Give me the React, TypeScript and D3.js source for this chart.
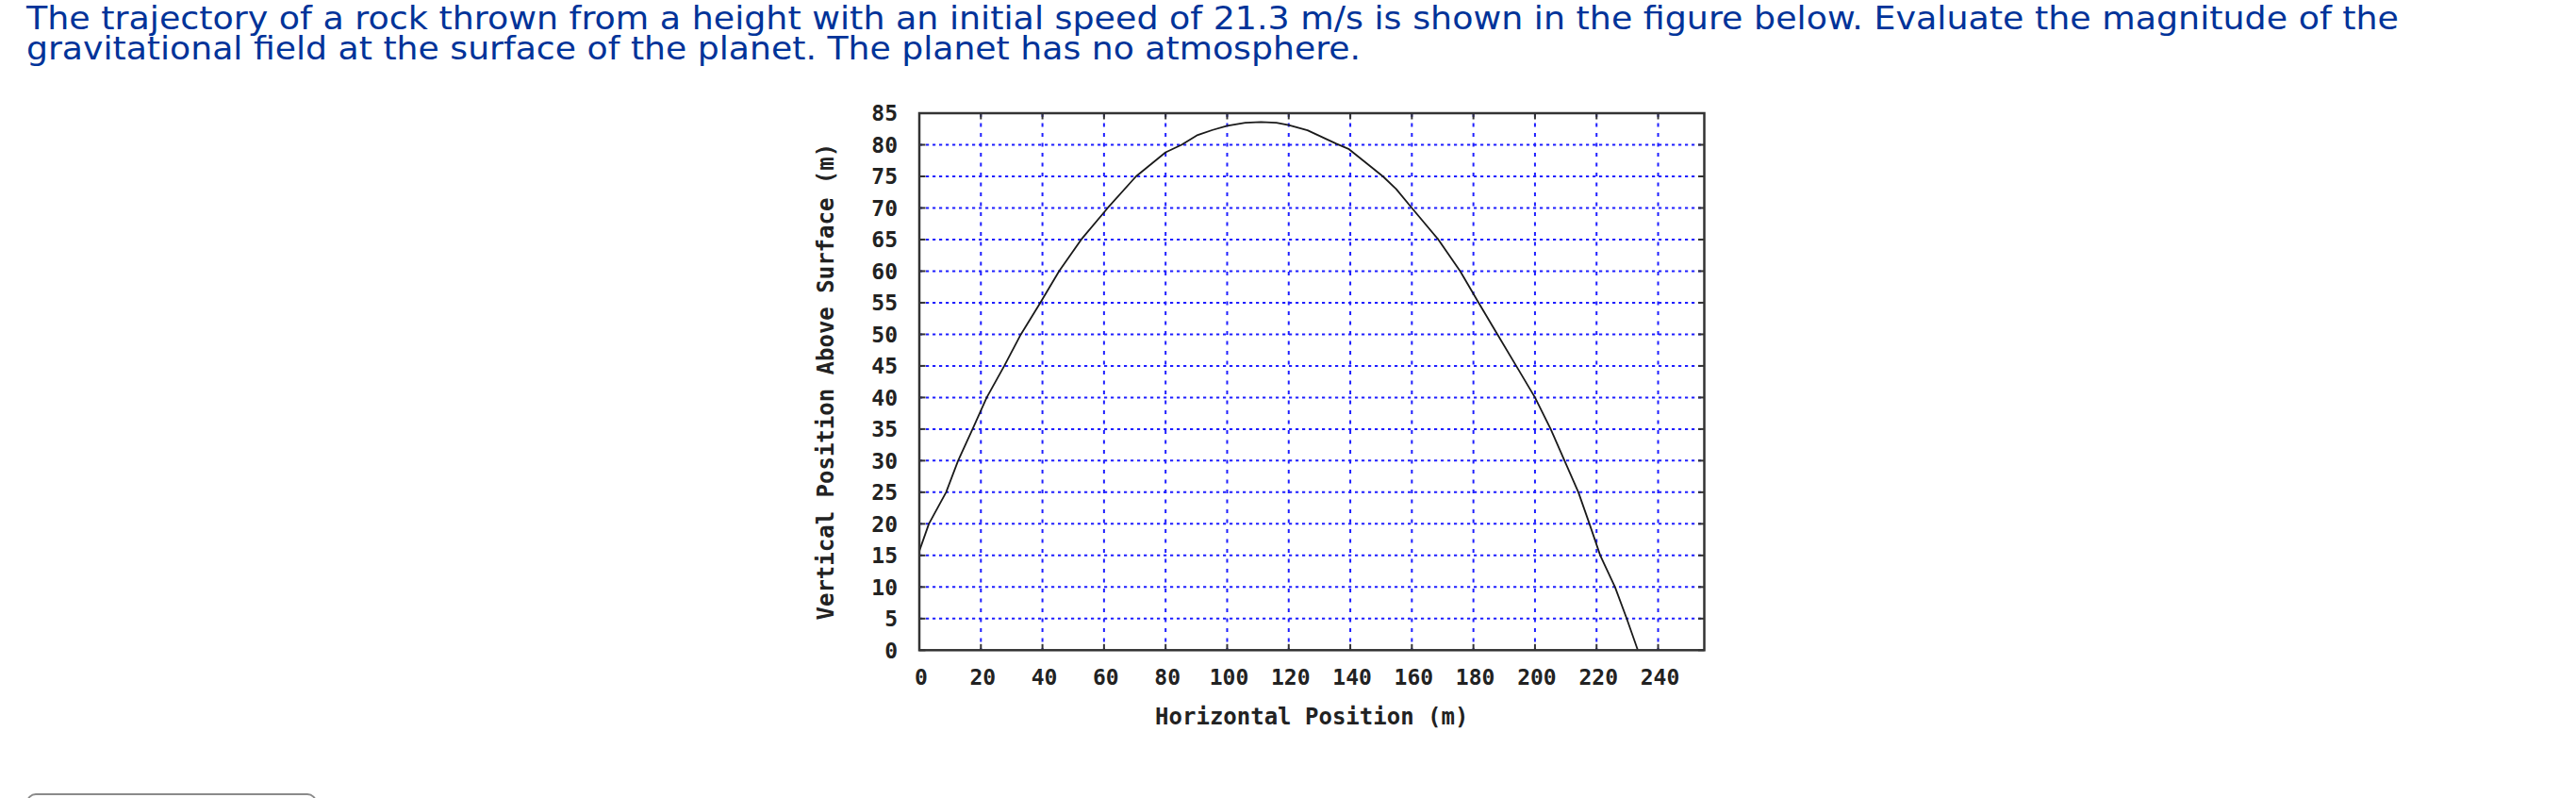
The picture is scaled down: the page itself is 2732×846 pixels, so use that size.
import React, { useEffect } from "react";
import * as d3 from "d3";

// ---------- data ----------
const titleLines = [
  "The trajectory of a rock thrown from a height with an initial speed of 21.3 m/s is shown in the figure below. Evaluate the magnitude of the",
  "gravitational field at the surface of the planet. The planet has no atmosphere.",
];
const titleWidths = [2516, 1415];
const xLabel = "Horizontal Position (m)";
const yLabel = "Vertical Position Above Surface (m)";

const xTicks = [0, 20, 40, 60, 80, 100, 120, 140, 160, 180, 200, 220, 240];
const yTicks = [0, 5, 10, 15, 20, 25, 30, 35, 40, 45, 50, 55, 60, 65, 70, 75, 80, 85];
const xDomain = [0, 255];
const yDomain = [0, 85];

// trajectory points
const trajX = [
  0, 3.1, 8.7, 12.6, 17.3, 21.9, 27.6, 33.0, 39.3, 45.4, 52.6, 61.2, 70.4, 80, 85.2, 90.2, 95.3,
  100, 105.9, 111, 116, 120, 126.1, 135.3, 139.6, 146.5, 150.6, 154.9, 160, 168.6, 175.7,
  181.7, 187.8, 193.9, 200, 205.1, 209.6, 214.1, 217.7, 221.2, 226.0, 229.8, 233.4,
];
const trajY = [
  15.7, 20, 25, 30, 35, 40, 45, 50, 55, 60, 65, 70, 75, 78.8, 80, 81.5, 82.35,
  83.0, 83.5, 83.6, 83.5, 83.1, 82.3, 80.2, 79.3, 76.6, 75, 73, 70, 65, 60,
  55, 50, 45, 40, 35, 30, 25, 20, 15, 10, 5, 0,
];

// ---------- layout ----------
const W = 2732;
const H = 846;
const L = 975, R = 1807.5, T = 120, B = 689.3;

export default function App() {
  useEffect(() => {
    document.body.style.margin = "0";
  }, []);

  const x = d3.scaleLinear().domain(xDomain).range([L, R]);
  const y = d3.scaleLinear().domain(yDomain).range([B, T]);
  const pts: [number, number][] = trajX.map((v, i) => [v, trajY[i]]);
  const line = d3
    .line<[number, number]>()
    .x((d) => x(d[0]))
    .y((d) => y(d[1]));

  const mono = "'DejaVu Sans Mono', monospace";
  const axisColor = "#333";
  const gridColor = "#1f1fff";
  const tickLen = 6.5;

  return (
    <svg
      width={W}
      height={H}
      style={{ position: "absolute", left: 0, top: 0, background: "#fff" }}
      xmlns="http://www.w3.org/2000/svg"
    >
      <rect x={0} y={0} width={W} height={H} fill="#fff" />
      {/* question text */}
      <g fill="#003399" fontFamily="'DejaVu Sans', Verdana, sans-serif" fontSize={34}>
        {titleLines.map((t, i) => (
          <text key={i} x={28} y={31 + i * 32} textLength={titleWidths[i]} lengthAdjust="spacingAndGlyphs">
            {t}
          </text>
        ))}
      </g>

      {/* grid */}
      <g stroke={gridColor} strokeWidth={2} fill="none">
        {yTicks
          .filter((v) => v > yDomain[0] && v < yDomain[1])
          .map((v) => (
            <line key={"gy" + v} x1={L} x2={R} y1={y(v)} y2={y(v)} strokeDasharray="3.2,3.8" />
          ))}
        {xTicks
          .filter((v) => v > xDomain[0] && v < xDomain[1])
          .map((v) => (
            <line key={"gx" + v} x1={x(v)} x2={x(v)} y1={T} y2={B} strokeDasharray="4,6.5" />
          ))}
      </g>

      {/* tick marks (inward, mirrored) */}
      <g stroke={axisColor} strokeWidth={2}>
        {yTicks.map((v) => (
          <g key={"ty" + v}>
            <line x1={L} x2={L + tickLen} y1={y(v)} y2={y(v)} />
            <line x1={R} x2={R - tickLen} y1={y(v)} y2={y(v)} />
          </g>
        ))}
        {xTicks.map((v) => (
          <g key={"tx" + v}>
            <line x1={x(v)} x2={x(v)} y1={B} y2={B - tickLen} />
            <line x1={x(v)} x2={x(v)} y1={T} y2={T + tickLen} />
          </g>
        ))}
      </g>

      {/* trajectory */}
      <path d={line(pts) || ""} fill="none" stroke="#1a1a1a" strokeWidth={1.8} strokeLinejoin="round" />

      {/* frame */}
      <rect x={L} y={T} width={R - L} height={B - T} fill="none" stroke={axisColor} strokeWidth={2.5} />

      {/* tick labels */}
      <g fontFamily={mono} fontSize={23} fontWeight="bold" fill="#222">
        {yTicks.map((v) => (
          <text key={"ly" + v} x={952} y={y(v) + 8.4} textAnchor="end">
            {v}
          </text>
        ))}
        {xTicks.map((v) => (
          <text key={"lx" + v} x={x(v) + 2} y={726} textAnchor="middle">
            {v}
          </text>
        ))}
      </g>

      {/* axis titles */}
      <g fontFamily={mono} fontSize={24} fontWeight="bold" fill="#222">
        <text x={(L + R) / 2} y={768} textAnchor="middle">
          {xLabel}
        </text>
        <text transform={`translate(884, ${(T + B) / 2}) rotate(-90)`} textAnchor="middle">
          {yLabel}
        </text>
      </g>

      {/* answer box (cut off at bottom) */}
      <rect x={29} y={842} width={306} height={60} rx={9} fill="#fff" stroke="#8a8a8a" strokeWidth={2} />
    </svg>
  );
}
